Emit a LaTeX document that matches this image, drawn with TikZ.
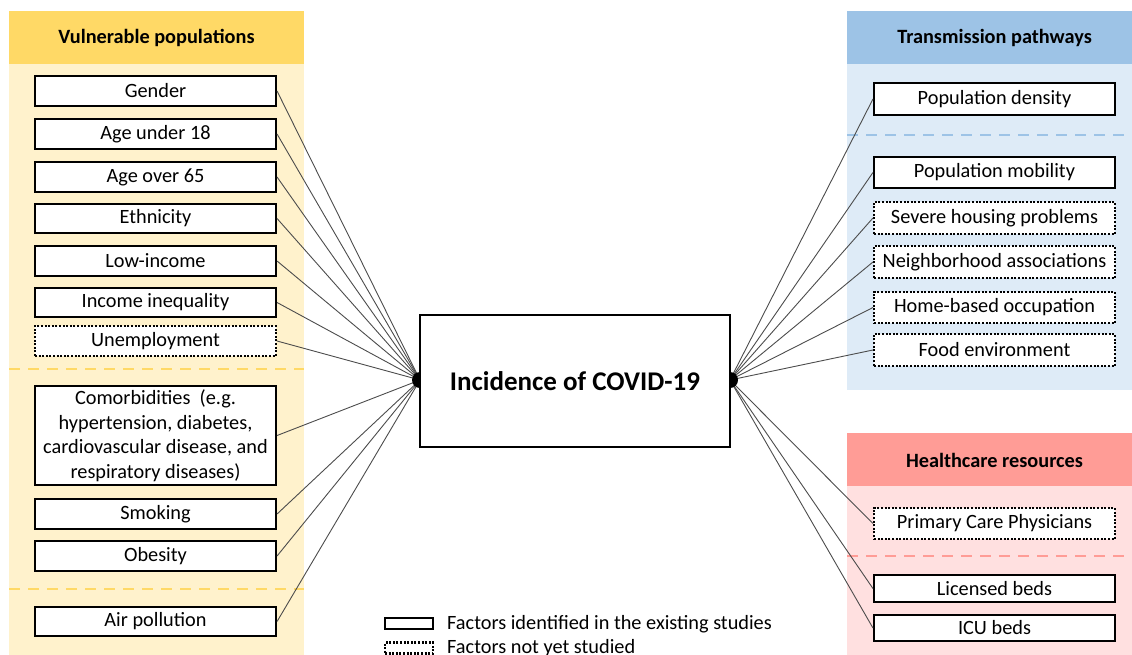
\documentclass[tikz,border=0pt]{standalone}
\usepackage{fontspec}
\setmainfont{Carlito}
\begin{document}
\begin{tikzpicture}[x=1pt,y=-1pt,
  every node/.style={font=\fontsize{20.3}{24}\selectfont, inner sep=0pt},
  factor/.style={draw=black, fill=white, line width=2.1pt, minimum width=241pt, minimum height=30pt, align=center},
  studied/.style={factor},
  unstudied/.style={factor, dash pattern=on 2pt off 1.6pt},
  link/.style={draw=black!70, line width=0.9pt},
  header/.style={font=\fontsize{20.3}{24}\selectfont\bfseries},
  sepY/.style={draw=yhead, line width=2pt, dash pattern=on 11pt off 8pt},
  sepB/.style={draw=bhead, line width=2pt, dash pattern=on 11pt off 8pt},
  sepP/.style={draw=phead, line width=2pt, dash pattern=on 11pt off 8pt}
]
\definecolor{yhead}{RGB}{255,217,102}
\definecolor{ybody}{RGB}{255,242,204}
\definecolor{bhead}{RGB}{157,195,230}
\definecolor{bbody}{RGB}{222,235,247}
\definecolor{phead}{RGB}{255,156,150}
\definecolor{pbody}{RGB}{255,224,224}
\useasboundingbox (0,0) rectangle (1132,654);
\clip (0,0) rectangle (1132,654);

% panels
\fill[ybody] (9,64) rectangle (304,660);
\fill[yhead] (9,11) rectangle (304,64);
\fill[bbody] (847,64) rectangle (1140,390);
\fill[bhead] (847,11) rectangle (1140,64);
\fill[pbody] (847,486) rectangle (1140,660);
\fill[phead] (847,433) rectangle (1140,486);

\node[header] (hv) at (156.5,38) {Vulnerable populations};
\node[header] (ht) at (994.5,38) {Transmission pathways};
\node[header] (hh) at (994.5,460) {Healthcare resources};

% separators
\draw[sepY] (9,369) -- (304,369);
\draw[sepY] (9,589) -- (304,589);
\draw[sepB] (847,135) -- (1132,135);
\draw[sepP] (847,556) -- (1132,556);

% hub points
\coordinate (ldot) at (420,380);
\coordinate (rdot) at (730,380);

% left factors
\node[studied] (gender) at (155.5,91) {Gender};
\node[studied] (u18) at (155.5,134) {Age under 18};
\node[studied] (o65) at (155.5,177) {Age over 65};
\node[studied, minimum height=29pt] (eth) at (155.5,218.5) {Ethnicity};
\node[studied] (lowinc) at (155.5,261) {Low-income};
\node[studied, minimum height=29pt] (ineq) at (155.5,302.5) {Income inequality};
\node[unstudied] (unemp) at (155.5,341) {Unemployment};
\node[studied, minimum height=99pt] (comorb) at (155.5,435.5) {Comorbidities\ \ (e.g.\\[0.5pt]hypertension, diabetes,\\[0.5pt]cardiovascular disease, and\\[0.5pt]respiratory diseases)};
\node[studied] (smoke) at (155.5,514) {Smoking};
\node[studied] (obes) at (155.5,556) {Obesity};
\node[studied, minimum height=29pt] (air) at (155.5,621.5) {Air pollution};

% right factors
\node[studied, minimum height=32pt] (pden) at (994.5,99) {Population density};
\node[studied, minimum height=31pt] (pmob) at (994.5,172.5) {Population mobility};
\node[unstudied, minimum height=32pt] (house) at (994.5,218) {Severe housing problems};
\node[unstudied, minimum height=32pt] (neigh) at (994.5,262) {Neighborhood associations};
\node[unstudied, minimum height=31pt] (home) at (994.5,307.5) {Home-based occupation};
\node[unstudied, minimum height=32pt] (food) at (994.5,350) {Food environment};
\node[unstudied, minimum height=31pt] (pcp) at (994.5,523.5) {Primary Care Physicians};
\node[studied, minimum height=27pt] (lbeds) at (994.5,588.5) {Licensed beds};
\node[studied, minimum height=26pt] (icu) at (994.5,628) {ICU beds};

% connectors
\foreach \n in {gender,u18,o65,eth,lowinc,ineq,unemp,comorb,smoke,obes,air}
  \draw[link] (\n.east) -- (ldot);
\foreach \n in {pden,pmob,house,neigh,home,food,pcp,lbeds,icu}
  \draw[link] (rdot) -- (\n.west);

% hub dots and central box
\fill[black] (ldot) circle (8pt);
\fill[black] (rdot) circle (8pt);
\node[draw=black, fill=white, line width=2.1pt, minimum width=310pt, minimum height=132pt,
      font=\fontsize{27}{32}\selectfont\bfseries] (center) at (575,381) {Incidence of COVID-19};

% legend
\node[draw=black, line width=2.1pt, minimum width=48pt, minimum height=11pt] (lgs) at (409,623.5) {};
\node[draw=black, line width=2.1pt, dash pattern=on 2pt off 1.6pt, minimum width=48pt, minimum height=11pt] (lgd) at (409,648) {};
\node[anchor=west] (lgst) at (447,624) {Factors identified in the existing studies};
\node[anchor=west] (lgdt) at (447,648.5) {Factors not yet studied};
\end{tikzpicture}
\end{document}
